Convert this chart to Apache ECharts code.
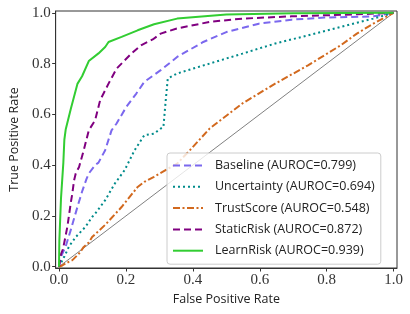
<!DOCTYPE html>
<html>
<head>
<meta charset="utf-8">
<script src="https://cdn.jsdelivr.net/npm/echarts@6/dist/echarts.min.js"></script>
<style>html,body{margin:0;padding:0;background:#fff}#c{width:410px;height:314px}</style>
</head>
<body>
<div id="c"></div>
<script>
var seriesNames = ['Baseline (AUROC=0.799)', 'Uncertainty (AUROC=0.694)', 'TrustScore (AUROC=0.548)', 'StaticRisk (AUROC=0.872)', 'LearnRisk (AUROC=0.939)'];
var tickValues = [0, 0.2, 0.4, 0.6, 0.8, 1.0];

var baseline = [[0,0],[0.006,0.04],[0.02,0.08],[0.035,0.144],[0.045,0.19],[0.055,0.235],[0.07,0.3],[0.082,0.345],[0.089,0.367],[0.108,0.4],[0.118,0.41],[0.138,0.459],[0.157,0.537],[0.172,0.564],[0.201,0.629],[0.231,0.682],[0.255,0.728],[0.304,0.774],[0.353,0.826],[0.431,0.885],[0.5,0.924],[0.597,0.957],[0.695,0.973],[0.793,0.981],[0.94,0.986],[1,1]];
var uncertainty = [[0,0],[0.016,0.04],[0.03,0.08],[0.05,0.117],[0.079,0.157],[0.099,0.196],[0.108,0.209],[0.138,0.262],[0.167,0.328],[0.196,0.38],[0.226,0.459],[0.255,0.518],[0.284,0.524],[0.304,0.544],[0.312,0.55],[0.319,0.656],[0.325,0.741],[0.353,0.761],[0.45,0.8],[0.548,0.839],[0.646,0.879],[0.744,0.911],[0.842,0.944],[0.939,0.977],[1,1]];
var trustScore = [[0,0],[0.011,0.006],[0.03,0.02],[0.04,0.026],[0.06,0.052],[0.074,0.078],[0.089,0.095],[0.099,0.117],[0.138,0.165],[0.187,0.235],[0.235,0.314],[0.255,0.334],[0.284,0.354],[0.353,0.406],[0.392,0.46],[0.45,0.544],[0.548,0.643],[0.646,0.721],[0.744,0.793],[0.842,0.872],[0.89,0.918],[0.939,0.957],[1,1]];
var staticRisk = [[0,0],[0.006,0.05],[0.012,0.07],[0.025,0.157],[0.035,0.25],[0.04,0.29],[0.045,0.34],[0.05,0.367],[0.06,0.393],[0.074,0.459],[0.089,0.537],[0.108,0.577],[0.123,0.656],[0.148,0.721],[0.172,0.78],[0.216,0.839],[0.245,0.872],[0.28,0.895],[0.304,0.918],[0.352,0.938],[0.45,0.964],[0.548,0.977],[0.695,0.986],[0.89,0.994],[1,1]];
var learnRisk = [[0,0],[0.001,0.1],[0.006,0.27],[0.013,0.41],[0.016,0.5],[0.02,0.54],[0.035,0.62],[0.055,0.72],[0.069,0.75],[0.089,0.81],[0.118,0.84],[0.138,0.865],[0.148,0.885],[0.187,0.905],[0.235,0.931],[0.284,0.955],[0.353,0.977],[0.5,0.993],[0.7,0.998],[1,1]];
var diagonal = [[0,0],[1,1]];

var colors = ['#7B68EE', '#008B8B', '#D2691E', '#800080', '#32CD32'];
var serif = '"Liberation Serif", serif';
var sans = '"Open Sans", sans-serif';

var chart = echarts.init(document.getElementById('c'), null, {renderer: 'canvas'});
function axisCommon(name) {
  return {
    type: 'value', min: -0.01, max: 1.01, name: name, nameLocation: 'middle',
    nameTextStyle: {fontFamily: sans, fontSize: 12.5, color: '#222'},
    splitLine: {show: false},
    axisLine: {show: true, onZero: false, lineStyle: {color: '#333', width: 1}},
    axisTick: {show: true, inside: false, length: 3.5, customValues: tickValues, lineStyle: {color: '#333'}},
    axisLabel: {customValues: tickValues, formatter: function (v) { return v.toFixed(1); }, fontFamily: serif, fontSize: 15, color: '#333', margin: 5}
  };
}
var xA = axisCommon('False Positive Rate');
xA.nameGap = 23;
var yA = axisCommon('True Positive Rate');
yA.min = -0.005; yA.max = 1.007; yA.nameGap = 30;

function mk(name, data, color, type) {
  return {name: name, type: 'line', data: data, symbol: 'none', showSymbol: false, color: color,
    lineStyle: {color: color, width: 2, type: type}, animation: false, z: 3};
}

chart.setOption({
  animation: false,
  grid: {left: 49, right: 13, top: 11, bottom: 46, show: true, borderColor: '#333', borderWidth: 1},
  xAxis: xA,
  yAxis: yA,
  legend: {
    data: seriesNames, orient: 'vertical', left: 167, top: 153,
    padding: [6, 6, 7, 5], itemWidth: 30, itemHeight: 14, itemGap: 8.3,
    itemStyle: {opacity: 0},
    lineStyle: {opacity: 1, width: 2},
    backgroundColor: 'rgba(255,255,255,0.8)', borderColor: '#cccccc', borderWidth: 1, borderRadius: 3,
    textStyle: {fontFamily: sans, fontSize: 12.5, color: '#222', padding: [0, 0, 0, 7]},
    z: 10
  },
  series: [
    {name: 'diag', type: 'line', data: diagonal, symbol: 'none', lineStyle: {color: '#808080', width: 1}, z: 2},
    mk(seriesNames[0], baseline, colors[0], [7, 4]),
    mk(seriesNames[1], uncertainty, colors[1], [2, 3]),
    mk(seriesNames[2], trustScore, colors[2], [7, 2.5, 2, 2.5]),
    mk(seriesNames[3], staticRisk, colors[3], [7, 4]),
    mk(seriesNames[4], learnRisk, colors[4], 'solid')
  ]
});
</script>
</body>
</html>
